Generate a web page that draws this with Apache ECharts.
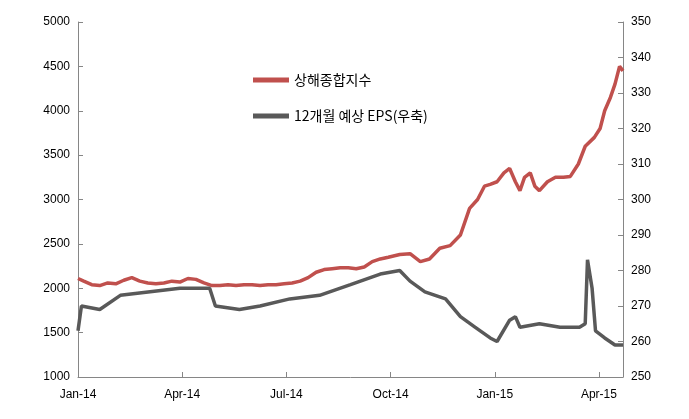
<!DOCTYPE html>
<html><head><meta charset="utf-8">
<script src="https://cdn.jsdelivr.net/npm/echarts@6/dist/echarts.min.js"></script>
<style>html,body{margin:0;padding:0;background:#fff}#c{width:689px;height:419px}</style>
</head><body><div id="c"></div>
<script>
const tickLabels = ['Jan-14','Apr-14','Jul-14','Oct-14','Jan-15','Apr-15'];
const sseDays = [0,5,12,19,26,33,40,47,54,61,68,75,82,89,96,103,110,117,124,131,138,145,152,159,166,173,180,187,194,201,208,215,222,229,236,243,250,257,264,271,281,290,299,307,316,325,334,342,349,355,360,366,372,377,382,386,390,395,399,403,410,417,424,430,437,443,451,456,460,465,469,473,476];
const sseVals = [2110,2080,2040,2030,2060,2050,2090,2120,2080,2060,2050,2060,2080,2070,2110,2100,2060,2030,2030,2040,2030,2040,2040,2030,2040,2040,2050,2060,2080,2120,2180,2210,2220,2230,2230,2220,2240,2300,2330,2350,2380,2390,2300,2330,2450,2480,2600,2900,3000,3150,3170,3200,3300,3350,3200,3100,3250,3300,3150,3100,3200,3250,3250,3260,3400,3600,3700,3800,4000,4150,4300,4500,4450];
const epsDays = [0,3,19,37,63,89,107,115,120,141,159,185,211,238,264,281,290,303,321,334,347,360,366,377,382,386,403,421,438,443,445,449,452,460,469,476];
const epsVals = [263,270,269,273,274,275,275,275,270,269,270,272,273,276,279,280,277,274,272,267,264,261,260,266,267,264,265,264,264,265,283,275,263,261,259,259];
const pair = (d,v)=>d.map((x,i)=>[x,v[i]]);
const ax = {fontSize:12,color:'#000',fontFamily:'Liberation Sans',formatter:v=>String(v)};
echarts.init(document.getElementById('c')).setOption({
  animation:false,
  grid:{left:78,right:66,top:22,bottom:42},
  legend:{orient:'vertical',left:248,top:68,itemGap:22,itemWidth:36,itemHeight:5,icon:'rect',
    textStyle:{fontSize:14,fontFamily:'Noto Sans CJK KR',color:'#000'},
    data:['상해종합지수','12개월 예상 EPS(우축)']},
  xAxis:{type:'value',min:0,max:476,interval:91,
    axisLine:{lineStyle:{color:'#868686'}},axisTick:{show:true,inside:true,lineStyle:{color:'#868686'}},
    splitLine:{show:false},
    axisLabel:{...ax,margin:12,showMaxLabel:false,formatter:v=>tickLabels[Math.round(v/91)]||''}},
  yAxis:[
    {type:'value',min:1000,max:5000,interval:500,axisLine:{show:true,lineStyle:{color:'#868686'}},
     axisTick:{show:true,inside:true},splitLine:{show:false},axisLabel:ax},
    {type:'value',min:250,max:350,interval:10,position:'right',axisLine:{show:true,lineStyle:{color:'#868686'}},
     axisTick:{show:true,inside:true},splitLine:{show:false},axisLabel:ax}],
  series:[
    {name:'상해종합지수',type:'line',yAxisIndex:0,showSymbol:false,data:pair(sseDays,sseVals),
     lineStyle:{width:3.5,color:'#C0504D'},itemStyle:{color:'#C0504D'}},
    {name:'12개월 예상 EPS(우축)',type:'line',yAxisIndex:1,showSymbol:false,data:pair(epsDays,epsVals),
     lineStyle:{width:3.5,color:'#595959'},itemStyle:{color:'#595959'}}
  ]
});
</script></body></html>
